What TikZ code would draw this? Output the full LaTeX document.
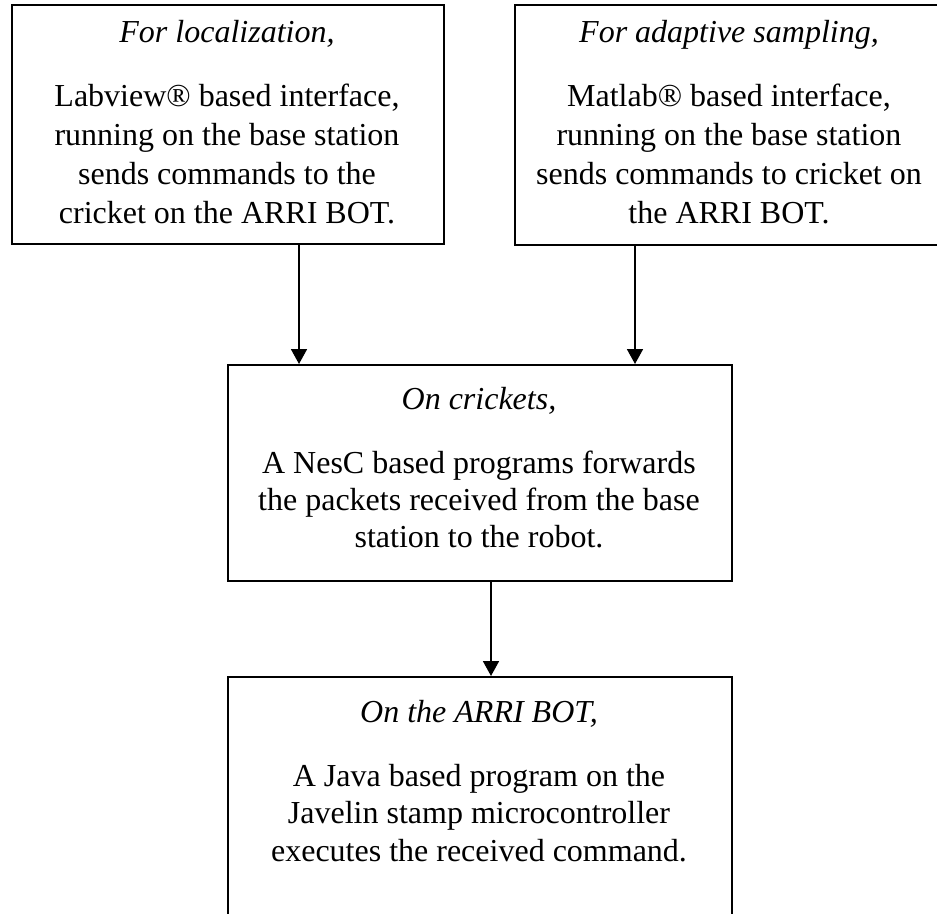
\documentclass[tikz,border=0pt]{standalone}
\usepackage{fontspec}
\setmainfont{Liberation Serif}
\usetikzlibrary{arrows.meta}
\begin{document}
\begin{tikzpicture}[x=1pt,y=-1pt,
  boxstyle/.style={draw, line width=1.8pt, rectangle, inner sep=0pt, anchor=north west},
  txt/.style={align=center, inner sep=0pt, anchor=north, font=\fontsize{32}{37}\selectfont},
  arr/.style={line width=1.8pt, -{Triangle[length=15pt,width=16pt]}}]
% page area; anything outside it is cut off
\clip (0,0) rectangle (937,913);

% boxes
\node[boxstyle, minimum width=432pt, minimum height=239pt] (b1) at (11,4) {};
\node[boxstyle, minimum width=470pt, minimum height=240pt] (b2) at (514,4) {};
\node[boxstyle, minimum width=504pt, minimum height=216pt] (b3) at (227,364) {};
\node[boxstyle, minimum width=504pt, minimum height=300pt] (b4) at (227,676) {};

% box texts
\node[txt] (t1) at (227,20) {\itshape For localization,\\[27pt]
  Labview® based interface,\\[2pt] running on the base station\\[2pt]
  sends commands to the\\[2pt] cricket on the ARRI BOT.};
\node[txt] (t2) at (729,20) {\itshape For adaptive sampling,\\[27pt]
  Matlab® based interface,\\[2pt] running on the base station\\[2pt]
  sends commands to cricket on\\[2pt] the ARRI BOT.};
\node[txt] (t3) at (479,387) {\itshape On crickets,\\[27pt]
  A NesC based programs forwards\\ the packets received from the base\\
  station to the robot.};
\node[txt] (t4) at (479,700) {\itshape On the ARRI BOT,\\[27pt]
  A Java based program on the\\[0.5pt] Javelin stamp microcontroller\\[0.5pt]
  executes the received command.};

% connectors
\coordinate (c1) at (299,0);
\coordinate (c2) at (635,0);
\coordinate (c3) at (491,0);
\draw[arr] (c1 |- b1.south) -- (c1 |- b3.north);
\draw[arr] (c2 |- b2.south) -- (c2 |- b3.north);
\draw[arr] (c3 |- b3.south) -- (c3 |- b4.north);
\end{tikzpicture}
\end{document}
